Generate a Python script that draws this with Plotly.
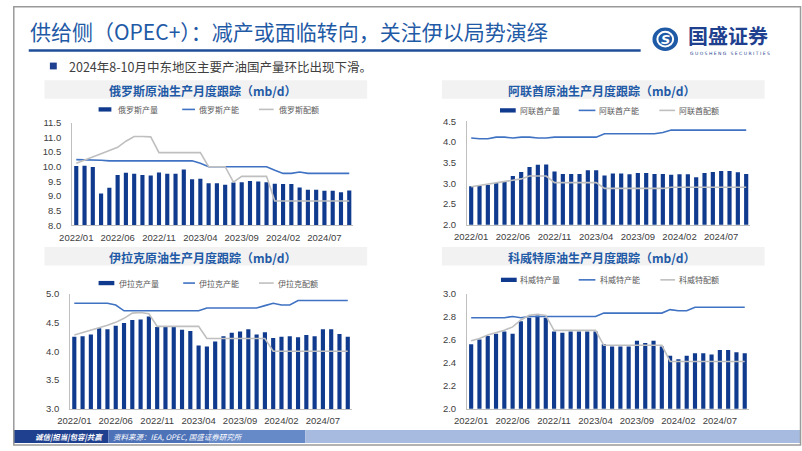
import plotly.graph_objects as go

# ---------------- data ----------------
months = ["2022/01","2022/02","2022/03","2022/04","2022/05","2022/06","2022/07","2022/08","2022/09","2022/10","2022/11","2022/12",
          "2023/01","2023/02","2023/03","2023/04","2023/05","2023/06","2023/07","2023/08","2023/09","2023/10","2023/11","2023/12",
          "2024/01","2024/02","2024/03","2024/04","2024/05","2024/06","2024/07","2024/08","2024/09","2024/10"]
tick_labels = ["2022/01","2022/06","2022/11","2023/04","2023/09","2024/02","2024/07"]

russia_prod = [10.02,10.03,9.99,9.08,9.28,9.72,9.79,9.76,9.72,9.70,9.80,9.76,9.76,9.90,9.57,9.59,9.43,9.43,9.38,9.46,9.47,9.51,9.49,9.47,9.42,9.41,9.41,9.29,9.21,9.21,9.18,9.18,9.13,9.19]
russia_cap = [10.24,10.24,10.24,10.22,10.20,10.20,10.20,10.20,10.20,10.20,10.20,10.20,10.20,10.20,10.20,10.12,10.00,10.00,10.00,10.00,10.00,10.00,10.00,10.00,9.88,9.77,9.77,9.82,9.77,9.77,9.77,9.77,9.77,9.77]
russia_quota = [10.12,10.22,10.33,10.44,10.55,10.66,10.87,11.03,11.03,11.02,10.48,10.48,10.48,10.48,10.48,10.48,10.00,10.00,10.00,9.47,9.67,9.67,9.67,9.67,8.83,8.83,8.83,8.83,8.83,8.83,8.83,8.83,8.83,8.83]

uae_prod = [2.93,2.94,2.96,3.01,3.06,3.18,3.28,3.40,3.45,3.46,3.29,3.23,3.23,3.23,3.32,3.32,3.19,3.24,3.24,3.22,3.25,3.25,3.23,3.23,3.21,3.22,3.22,3.15,3.25,3.28,3.30,3.30,3.27,3.23]
uae_cap = [4.10,4.08,4.08,4.12,4.12,4.10,4.12,4.12,4.10,4.10,4.12,4.12,4.12,4.12,4.12,4.12,4.20,4.20,4.20,4.20,4.20,4.20,4.20,4.23,4.29,4.29,4.29,4.29,4.29,4.29,4.29,4.29,4.29,4.29]
uae_quota = [2.92,2.95,2.98,3.01,3.04,3.07,3.11,3.18,3.18,3.18,3.02,3.02,3.02,3.02,3.02,3.02,2.88,2.88,2.88,2.88,2.88,2.88,2.88,2.88,2.91,2.91,2.91,2.91,2.91,2.91,2.91,2.91,2.91,2.91]

iraq_prod = [4.25,4.26,4.29,4.40,4.38,4.44,4.49,4.54,4.55,4.60,4.42,4.42,4.42,4.37,4.35,4.10,4.08,4.17,4.26,4.32,4.34,4.38,4.29,4.33,4.23,4.25,4.26,4.24,4.28,4.26,4.38,4.38,4.30,4.25]
iraq_cap = [4.83,4.83,4.83,4.83,4.83,4.80,4.70,4.70,4.70,4.70,4.70,4.70,4.70,4.70,4.70,4.70,4.75,4.75,4.75,4.75,4.75,4.75,4.75,4.79,4.83,4.80,4.80,4.88,4.88,4.88,4.88,4.88,4.88,4.88]
iraq_quota = [4.28,4.32,4.36,4.40,4.45,4.50,4.57,4.66,4.67,4.65,4.43,4.43,4.43,4.43,4.43,4.43,4.22,4.22,4.22,4.22,4.22,4.22,4.22,4.22,4.00,4.00,4.00,4.00,4.00,4.00,4.00,4.00,4.00,4.00]

kuwait_prod = [2.56,2.60,2.63,2.65,2.67,2.65,2.76,2.79,2.81,2.79,2.67,2.66,2.67,2.67,2.67,2.67,2.56,2.54,2.54,2.54,2.59,2.57,2.59,2.54,2.46,2.43,2.46,2.48,2.48,2.47,2.51,2.51,2.49,2.48]
kuwait_cap = [2.79,2.79,2.79,2.79,2.79,2.80,2.79,2.80,2.80,2.80,2.80,2.80,2.80,2.80,2.80,2.80,2.83,2.83,2.83,2.83,2.83,2.83,2.83,2.83,2.86,2.85,2.85,2.88,2.88,2.88,2.88,2.88,2.88,2.88]
kuwait_quota = [2.59,2.61,2.64,2.66,2.68,2.71,2.77,2.81,2.82,2.81,2.68,2.68,2.68,2.68,2.68,2.68,2.55,2.55,2.55,2.55,2.55,2.55,2.55,2.55,2.41,2.41,2.41,2.41,2.41,2.41,2.41,2.41,2.41,2.41]

panel_titles = ["俄罗斯原油生产月度跟踪（mb/d）", "阿联酋原油生产月度跟踪（mb/d）",
                "伊拉克原油生产月度跟踪（mb/d）", "科威特原油生产月度跟踪（mb/d）"]
series_names = [["俄罗斯产量", "俄罗斯产能", "俄罗斯配额"],
                ["阿联酋产量", "阿联酋产能", "阿联酋配额"],
                ["伊拉克产量", "伊拉克产能", "伊拉克配额"],
                ["科威特产量", "科威特产能", "科威特配额"]]

# ---------------- style ----------------
W, H = 802, 451
BAR = "#0F3A8D"
CAP = "#3F72C2"
QUOTA = "#BFBFBF"
TITLE_BLUE = "#1F5AA6"
CJK = "Noto Sans CJK SC"
TICKFONT = dict(family="Liberation Sans, Arial", size=9.5, color="#404040")

def px(x):
    return x / W

def py(y):
    return 1 - y / H

panels = [
    dict(prod=russia_prod, cap=russia_cap, quota=russia_quota, xd=(60.1, 346.0), yd=(119.7, 224.7),
         yr=(8.0, 11.5), dt=0.5, band=(32, 360, 76, 95), tc=(193, 86.5), leg_y=106,
         leg=[(87, 100, 105), (172, 185, 187), (250, 265, 268)]),
    dict(prod=uae_prod, cap=uae_cap, quota=uae_quota, xd=(461.5, 749.5), yd=(118.3, 224.3),
         yr=(2.0, 4.5), dt=0.5, band=(436, 764, 76, 95), tc=(598, 86.5), leg_y=107,
         leg=[(495, 511, 513), (575, 592, 594), (657, 673, 675)]),
    dict(prod=iraq_prod, cap=iraq_cap, quota=iraq_quota, xd=(58.1, 344.5), yd=(294.7, 413.0),
         yr=(3.0, 5.0), dt=0.5, band=(32, 360, 247, 266), tc=(193, 257.3), leg_y=284,
         leg=[(87, 103, 106), (173, 185, 187), (250, 265, 267)]),
    dict(prod=kuwait_prod, cap=kuwait_cap, quota=kuwait_quota, xd=(461.5, 748.0), yd=(294.7, 412.7),
         yr=(2.0, 3.0), dt=0.2, band=(436, 764, 247, 266), tc=(598, 257.3), leg_y=280.7,
         leg=[(496, 512, 513), (575, 592, 595), (658, 673, 675)]),
]

fig = go.Figure()
shapes = []
annotations = []
layout_axes = {}

for i, p in enumerate(panels):
    n = "" if i == 0 else str(i + 1)
    xa, ya = "x" + n, "y" + n
    names = series_names[i]
    fig.add_trace(go.Bar(x=months, y=p["prod"], name=names[0], marker=dict(color=BAR, line=dict(width=0)),
                         xaxis=xa, yaxis=ya, showlegend=False))
    fig.add_trace(go.Scatter(x=months, y=p["cap"], name=names[1], mode="lines",
                             line=dict(color=CAP, width=1.6), xaxis=xa, yaxis=ya, showlegend=False))
    fig.add_trace(go.Scatter(x=months, y=p["quota"], name=names[2], mode="lines",
                             line=dict(color=QUOTA, width=1.6), xaxis=xa, yaxis=ya, showlegend=False))

    y0, y1 = p["yr"]
    nt = int(round((y1 - y0) / p["dt"]))
    tv = [round(y0 + k * p["dt"], 2) for k in range(nt + 1)]
    layout_axes["xaxis" + n] = dict(
        domain=[px(p["xd"][0]), px(p["xd"][1])], anchor=ya, type="category",
        categoryorder="array", categoryarray=months, range=[-0.5, len(months) - 0.5],
        tickmode="array", tickvals=tick_labels, ticktext=tick_labels, ticks="",
        showline=True, linecolor="#BFBFBF", linewidth=1, showgrid=False, zeroline=False,
        tickfont=TICKFONT, tickangle=0, ticklabelstandoff=3, fixedrange=True)
    layout_axes["yaxis" + n] = dict(
        domain=[py(p["yd"][1]), py(p["yd"][0])], anchor=xa, range=[y0, y1],
        tickmode="array", tickvals=tv, ticktext=[f"{v:.1f}" for v in tv], ticks="",
        showline=True, linecolor="#BFBFBF", linewidth=1, showgrid=False, zeroline=False,
        tickfont=TICKFONT, ticklabelstandoff=8, fixedrange=True)

    # title band
    bx0, bx1, by0, by1 = p["band"]
    shapes.append(dict(type="rect", xref="paper", yref="paper", x0=px(bx0), x1=px(bx1),
                       y0=py(by1), y1=py(by0), fillcolor="#F2F2F2", line=dict(width=0), layer="below"))
    annotations.append(dict(text="<b>" + panel_titles[i] + "</b>", xref="paper", yref="paper",
                            x=px(p["tc"][0]), y=py(p["tc"][1]), xanchor="center", yanchor="middle",
                            showarrow=False, font=dict(family=CJK, size=12, color=TITLE_BLUE)))
    # legend
    ly = p["leg_y"]
    (a0, a1, at), (b0, b1, bt), (c0, c1, ct) = p["leg"]
    shapes.append(dict(type="rect", xref="paper", yref="paper", x0=px(a0), x1=px(a1),
                       y0=py(ly + 2.2), y1=py(ly - 2.2), fillcolor=BAR, line=dict(width=0)))
    shapes.append(dict(type="line", xref="paper", yref="paper", x0=px(b0), x1=px(b1),
                       y0=py(ly), y1=py(ly), line=dict(color=CAP, width=1.6)))
    shapes.append(dict(type="line", xref="paper", yref="paper", x0=px(c0), x1=px(c1),
                       y0=py(ly), y1=py(ly), line=dict(color=QUOTA, width=1.6)))
    for tx, label in zip((at, bt, ct), names):
        annotations.append(dict(text=label, xref="paper", yref="paper", x=px(tx), y=py(ly),
                                xanchor="left", yanchor="middle", showarrow=False,
                                font=dict(family=CJK, size=8, color="#595959")))

# ---------------- slide decorations ----------------
annotations.append(dict(text="供给侧（OPEC+）：减产或面临转向，关注伊以局势演绎", xref="paper", yref="paper",
                        x=px(15), y=py(25.5), xanchor="left", yanchor="middle", showarrow=False,
                        font=dict(family=CJK, size=21, color=TITLE_BLUE)))
shapes.append(dict(type="line", xref="paper", yref="paper", x0=px(16), x1=px(638), y0=py(45.5), y1=py(45.5),
                   line=dict(color="#1F4E9A", width=2.5)))
shapes.append(dict(type="rect", xref="paper", yref="paper", x0=px(37.5), x1=px(44.5), y0=py(65), y1=py(58),
                   fillcolor="#1F3F8F", line=dict(width=0)))
annotations.append(dict(text="2024年8-10月中东地区主要产油国产量环比出现下滑。", xref="paper", yref="paper",
                        x=px(55), y=py(61.5), xanchor="left", yanchor="middle", showarrow=False,
                        font=dict(family=CJK, size=12.5, color="#404040")))
# logo
shapes.append(dict(type="circle", xref="paper", yref="paper", x0=px(650), x1=px(676), y0=py(46), y1=py(22),
                   fillcolor="#1F5AA6", line=dict(width=0)))
shapes.append(dict(type="circle", xref="paper", yref="paper", x0=px(655), x1=px(671), y0=py(41.5), y1=py(26.5),
                   fillcolor="rgba(0,0,0,0)", line=dict(color="white", width=2)))
annotations.append(dict(text="<b><i>S</i></b>", xref="paper", yref="paper", x=px(663), y=py(34),
                        xanchor="center", yanchor="middle", showarrow=False,
                        font=dict(family="DejaVu Sans", size=13, color="white")))
annotations.append(dict(text="<b>国盛证券</b>", xref="paper", yref="paper", x=px(684), y=py(30.5),
                        xanchor="left", yanchor="middle", showarrow=False,
                        font=dict(family=CJK, size=20, color="#1F3F8F")))
annotations.append(dict(text="G U O S H E N G   S E C U R I T I E S", xref="paper", yref="paper", x=px(729), y=py(48.5),
                        xanchor="center", yanchor="middle", showarrow=False,
                        font=dict(family="DejaVu Sans", size=4.5, color="#1F3F8F")))
# footer
for x0, x1, c in [(0, 97, "#1F3F8F"), (97, 200, "#4D72B8"), (200, 297, "#6689C8"), (297, 800, "#A7BBE0")]:
    shapes.append(dict(type="rect", xref="paper", yref="paper", x0=px(x0), x1=px(x1), y0=py(448), y1=py(434.7),
                       fillcolor=c, line=dict(width=0)))
annotations.append(dict(text="<b><i>诚信|担当|包容|共赢</i></b>", xref="paper", yref="paper", x=px(20), y=py(441.5),
                        xanchor="left", yanchor="middle", showarrow=False,
                        font=dict(family=CJK, size=7.5, color="white")))
annotations.append(dict(text="<i>资料来源：IEA, OPEC, 国盛证券研究所</i>", xref="paper", yref="paper", x=px(100), y=py(441.5),
                        xanchor="left", yanchor="middle", showarrow=False,
                        font=dict(family=CJK, size=7.5, color="white")))
# slide frame
shapes.append(dict(type="rect", xref="paper", yref="paper", x0=px(0.8), x1=px(800.5), y0=py(450), y1=py(0.8),
                   fillcolor="rgba(0,0,0,0)", line=dict(color="#9A9A9A", width=1.5)))

fig.update_layout(
    width=W, height=H, margin=dict(l=0, r=0, t=0, b=0),
    paper_bgcolor="white", plot_bgcolor="white",
    bargap=0.5, showlegend=False,
    shapes=shapes, annotations=annotations,
    **layout_axes,
)

fig.write_html("out.html", config={"displayModeBar": False},
               post_script="document.body.style.margin='0';document.body.style.overflow='hidden';")
